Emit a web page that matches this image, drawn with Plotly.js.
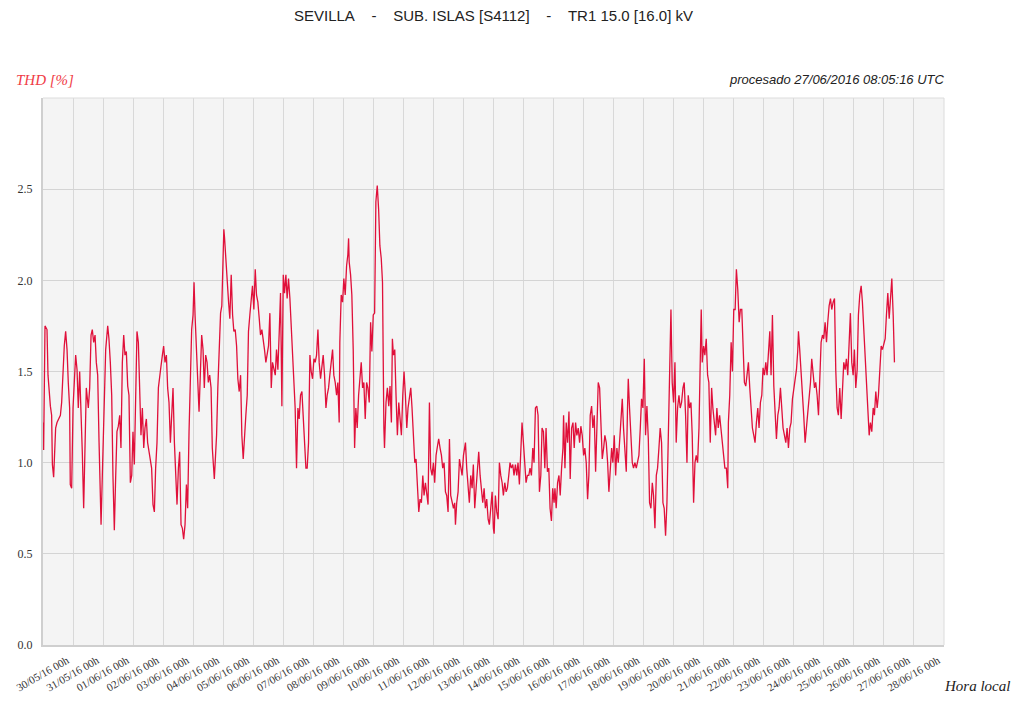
<!DOCTYPE html>
<html>
<head>
<meta charset="utf-8">
<script src="https://cdn.plot.ly/plotly-3.0.1.min.js"></script>
<style>
  html, body { margin: 0; padding: 0; background: #ffffff; }
  #chart { width: 1018px; height: 702px; }
</style>
</head>
<body>
<div id="chart"></div>
<script>
// Hours since 30/05/2016 00h (local) and THD [%] readings.
const week1 = [[0,1.22],[0.5,1.07],[1.6,1.75],[3.2,1.73],[4.0,1.48],[4.8,1.39],[5.9,1.31],[6.9,1.26],[7.5,0.99],[8.5,0.92],[9.3,1.08],[10.1,1.19],[11.2,1.22],[12.8,1.24],[13.9,1.26],[14.9,1.33],[16.0,1.55],[17.0,1.64],[18.1,1.72],[19.2,1.62],[20.2,1.44],[21.3,1.30],[21.8,0.88],[22.9,0.86],[24.0,1.30],[25.0,1.44],[26.1,1.59],[27.2,1.51],[28.2,1.30],[29.3,1.50],[30.4,1.30],[31.4,1.06],[32.5,0.75],[33.6,1.11],[34.6,1.41],[36.2,1.30],[37.3,1.41],[38.4,1.70],[39.4,1.73],[40.5,1.66],[41.6,1.70],[42.6,1.55],[43.7,1.48],[44.8,1.11],[46.4,0.66],[47.4,0.93],[49.0,1.44],[50.1,1.62],[51.7,1.75],[52.7,1.68],[53.8,1.55],[54.9,1.37],[55.9,0.93],[57.0,0.63],[58.1,0.93],[59.1,1.17],[60.2,1.20],[61.3,1.26],[62.3,1.08],[63.4,1.55],[64.5,1.70],[65.5,1.59],[66.6,1.61],[67.7,1.42],[68.7,1.37],[69.8,0.89],[70.9,0.93],[71.9,1.17],[73.0,0.99],[74.1,1.30],[75.1,1.72],[76.2,1.66],[77.3,1.44],[78.3,1.15],[79.4,1.30],[80.5,1.08],[81.5,1.19],[82.6,1.24],[83.6,1.11],[85.2,1.04],[86.8,0.97],[87.9,0.77],[89.0,0.73],[90.0,0.97],[91.1,1.11],[92.2,1.41],[93.2,1.48],[94.3,1.53],[95.4,1.59],[96.4,1.64],[97.5,1.55],[98.6,1.59],[99.6,1.41],[100.7,1.33],[101.8,1.11],[102.8,1.26],[103.9,1.41],[105.0,1.11],[106.0,0.93],[107.1,0.77],[108.2,0.97],[109.2,1.06],[110.3,0.66],[111.4,0.64],[112.4,0.58],[113.5,0.66],[114.6,0.88],[115.6,0.75],[116.7,1.17],[117.8,1.57],[118.8,1.73],[119.9,1.81],[120.7,1.99],[121.5,1.81],[122.5,1.62],[123.6,1.41],[124.7,1.28],[125.7,1.48],[126.8,1.70],[127.9,1.62],[128.9,1.41],[130.0,1.59],[131.1,1.55],[132.1,1.44],[133.2,1.48],[134.3,1.41],[135.3,1.08],[136.9,0.91]];
const week2 = [[137.6,1.02],[138.7,1.15],[139.7,1.41],[140.8,1.64],[141.9,1.82],[142.9,1.86],[143.5,2.03],[144.5,2.28],[145.1,2.23],[146.1,2.10],[147.2,2.03],[148.3,1.88],[149.3,1.79],[150.4,2.03],[151.5,1.81],[152.5,1.72],[153.6,1.73],[154.7,1.64],[155.7,1.46],[156.8,1.39],[157.9,1.48],[158.9,1.15],[160.0,1.02],[161.0,1.11],[162.1,1.26],[163.2,1.37],[164.2,1.72],[165.3,1.81],[166.4,1.92],[167.4,1.97],[168.5,1.84],[169.6,2.06],[170.6,1.92],[171.7,1.88],[172.8,1.79],[173.8,1.70],[174.9,1.73],[176.0,1.68],[177.0,1.62],[178.1,1.55],[179.2,1.61],[180.2,1.64],[181.3,1.82],[182.4,1.41],[183.4,1.55],[184.5,1.51],[185.6,1.48],[186.6,1.62],[187.7,1.51],[188.8,1.72],[189.8,1.93],[190.9,1.31],[192.0,2.03],[193.0,1.93],[194.1,2.03],[195.1,1.90],[196.2,2.01],[197.3,1.90],[198.3,1.77],[199.4,1.62],[200.5,1.44],[201.5,1.30],[202.6,0.97],[203.7,1.30],[204.7,1.24],[205.8,1.37],[206.9,1.39],[207.9,1.26],[209.0,1.19],[210.1,0.97],[211.1,0.97],[212.2,1.11],[213.3,1.59],[214.3,1.50],[215.4,1.46],[216.5,1.57],[217.5,1.55],[218.6,1.59],[219.7,1.73],[220.7,1.55],[221.8,1.46],[222.9,1.53],[223.9,1.59],[225.0,1.48],[226.1,1.30],[227.1,1.37],[228.2,1.41],[229.2,1.48],[230.3,1.55],[231.4,1.62],[232.4,1.48],[233.5,1.44],[234.6,1.37],[235.6,1.44],[236.7,1.22],[237.2,1.66],[238.3,1.92],[239.4,1.88],[240.4,2.01],[241.5,1.92],[242.6,2.08],[243.6,2.14],[244.2,2.23],[244.7,2.10],[245.8,2.03],[246.8,1.92],[247.9,1.62],[249.0,1.08],[250.0,1.30],[251.1,1.19],[252.2,1.37],[253.2,1.48],[254.3,1.55],[255.4,1.41],[256.4,1.44],[257.5,1.24],[258.6,1.44],[259.6,1.41],[260.7,1.33],[261.8,1.77],[262.8,1.61],[263.9,1.81],[265.0,1.82],[266.0,2.43],[267.1,2.52],[268.2,2.39],[269.2,2.19],[270.3,2.12],[271.3,1.99],[272.4,1.19],[272.9,1.08]];
const week3 = [[274.1,1.33],[275.2,1.41],[276.3,1.31],[277.3,1.42],[278.4,1.22],[279.2,1.68],[280.0,1.59],[281.1,1.62],[282.1,1.37],[283.2,1.15],[284.3,1.33],[285.3,1.26],[286.4,1.15],[287.5,1.37],[288.5,1.50],[289.6,1.37],[290.7,1.19],[291.7,1.30],[292.8,1.37],[293.9,1.41],[294.9,1.30],[296.0,1.15],[297.1,1.00],[298.1,1.02],[299.2,0.82],[300.3,0.73],[301.3,0.80],[302.4,0.78],[303.5,0.93],[304.5,0.82],[305.6,0.89],[306.6,0.82],[307.7,0.77],[308.8,1.33],[309.8,0.97],[310.9,0.93],[312.0,1.00],[313.0,0.89],[314.1,1.04],[315.2,1.09],[316.2,1.13],[317.3,1.08],[318.4,1.04],[319.4,0.97],[320.5,1.00],[321.6,0.84],[322.6,0.82],[323.7,0.73],[324.8,1.13],[325.8,0.82],[326.9,0.78],[328.0,0.75],[329.0,0.78],[329.6,0.66],[330.6,0.78],[331.7,0.84],[332.8,1.02],[333.8,0.97],[334.9,0.93],[336.0,1.04],[337.0,1.09],[337.6,1.11],[338.6,0.97],[339.7,0.89],[340.7,0.78],[341.8,0.93],[342.9,0.86],[343.9,0.99],[345.0,0.75],[346.1,0.86],[347.1,0.97],[348.2,1.06],[349.3,0.93],[350.3,0.84],[351.4,0.78],[352.5,0.86],[353.5,0.75],[354.6,0.80],[355.7,0.69],[356.7,0.66],[357.8,0.77],[358.9,0.84],[359.9,0.64],[360.5,0.61],[361.5,0.82],[362.6,0.73],[363.7,0.69],[364.7,1.00],[365.8,0.93],[366.9,0.89],[367.9,0.82],[369.0,0.89],[370.1,0.84],[371.1,0.86],[372.2,0.93],[373.2,1.00],[374.3,0.97],[375.4,0.99],[376.4,0.93],[377.5,0.99],[378.6,0.93],[379.6,1.00],[380.7,0.88],[381.8,1.08],[382.8,1.22],[383.9,1.11],[385.0,1.00],[386.0,0.89],[387.1,0.93],[388.2,0.93],[389.2,0.97],[390.3,0.93],[391.4,1.08],[392.4,1.00],[393.5,1.30],[394.6,1.31],[395.6,1.26],[396.7,0.84],[397.8,0.93],[398.8,1.19],[399.9,1.17],[401.0,0.97],[402.0,1.19],[403.1,0.95],[404.2,0.97],[405.2,0.75],[406.3,0.68],[407.3,0.86],[408.4,0.78]];
const week4 = [[409.1,0.86],[410.1,0.75],[411.2,0.89],[412.3,0.93],[413.3,0.82],[414.4,0.97],[415.5,1.08],[416.0,1.26],[417.1,0.97],[418.1,1.22],[419.2,1.11],[420.3,1.28],[421.3,0.91],[422.4,1.19],[423.5,1.22],[424.5,1.08],[425.6,1.22],[426.6,1.15],[427.7,1.19],[428.8,1.11],[429.8,1.20],[430.9,1.15],[432.0,1.04],[433.0,1.08],[434.1,1.00],[435.2,0.80],[436.2,0.93],[437.3,1.26],[438.4,1.31],[439.4,1.19],[440.5,1.26],[441.6,0.95],[442.6,1.24],[443.7,1.44],[444.8,1.41],[445.8,1.19],[446.9,1.02],[448.0,1.08],[449.0,1.15],[450.1,1.11],[451.2,1.00],[452.2,0.84],[453.3,0.97],[454.4,1.08],[455.4,1.00],[456.5,1.15],[457.6,0.93],[458.6,1.08],[459.7,1.00],[460.7,1.11],[461.8,1.19],[462.9,1.35],[463.9,1.19],[465.0,1.08],[466.1,0.95],[467.1,1.30],[467.7,1.46],[468.7,1.30],[469.8,1.11],[470.9,1.00],[471.9,0.97],[473.0,1.00],[474.1,0.97],[475.1,1.00],[476.2,1.04],[477.3,1.19],[478.3,1.35],[479.4,1.30],[480.5,1.57],[481.5,1.15],[482.6,1.31],[483.7,1.13],[484.7,0.78],[485.8,0.75],[486.9,0.89],[487.9,0.82],[489.0,0.64],[490.1,0.93],[491.1,0.97],[492.2,1.08],[493.2,1.19],[494.3,1.11],[495.4,0.78],[496.4,0.75],[497.5,0.60],[498.6,0.78],[499.6,1.15],[500.7,1.41],[501.8,1.84],[502.8,1.44],[503.9,1.33],[505.0,1.55],[506.0,1.11],[507.1,1.30],[508.2,1.37],[509.2,1.30],[510.3,1.33],[511.4,1.41],[512.4,1.44],[513.5,1.26],[514.6,1.00],[515.6,1.37],[516.7,1.30],[517.8,1.33],[518.8,1.15],[519.9,0.78],[521.0,1.00],[522.0,1.04],[523.1,1.00],[524.2,1.19],[525.2,1.48],[526.0,1.84],[526.8,1.55],[527.9,1.64],[528.9,1.59],[530.0,1.68],[531.1,1.48],[532.1,1.44],[533.2,1.11],[534.3,1.41],[535.3,1.30],[536.4,1.22],[537.5,1.15],[538.5,1.30],[539.6,1.19],[540.7,1.26],[541.7,1.19],[542.8,1.08],[543.9,1.00],[544.9,0.97]];
const week5 = [[546.1,0.97],[547.2,0.86],[547.7,1.22],[548.8,1.37],[549.9,1.66],[550.9,1.50],[552.0,1.84],[553.1,1.84],[554.1,2.06],[555.2,1.95],[556.3,1.77],[557.3,1.84],[558.4,1.84],[559.5,1.62],[560.5,1.44],[561.6,1.42],[562.7,1.48],[563.7,1.55],[564.8,1.41],[565.9,1.30],[566.9,1.19],[568.0,1.15],[569.0,1.11],[570.1,1.22],[571.2,1.30],[572.2,1.19],[573.3,1.33],[574.4,1.37],[575.4,1.52],[576.5,1.48],[577.6,1.55],[578.6,1.48],[579.7,1.62],[580.8,1.72],[581.8,1.48],[582.9,1.81],[584.0,1.42],[585.0,1.30],[586.1,1.13],[587.2,1.26],[588.2,1.30],[589.3,1.41],[590.4,1.26],[591.4,1.19],[592.5,1.15],[593.6,1.11],[594.6,1.19],[595.7,1.08],[596.8,1.19],[597.8,1.22],[598.9,1.35],[600.0,1.41],[601.0,1.48],[602.1,1.51],[603.1,1.61],[603.7,1.72],[604.7,1.62],[605.8,1.51],[606.9,1.39],[607.9,1.26],[609.0,1.11],[610.1,1.19],[611.1,1.26],[612.2,1.33],[613.3,1.44],[614.3,1.57],[615.4,1.48],[616.5,1.41],[617.5,1.44],[618.6,1.37],[619.7,1.26],[620.7,1.51],[621.8,1.66],[622.9,1.70],[623.9,1.68],[625.0,1.77],[626.1,1.66],[627.1,1.77],[628.2,1.86],[629.3,1.90],[630.3,1.84],[631.4,1.88],[632.5,1.90],[633.5,1.51],[634.6,1.30],[635.6,1.26],[636.7,1.41],[637.8,1.24],[638.8,1.44],[639.9,1.55],[641.0,1.51],[642.0,1.57],[643.1,1.48],[644.2,1.66],[645.2,1.82],[646.3,1.55],[647.4,1.48],[648.4,1.62],[649.5,1.41],[650.6,1.51],[651.6,1.81],[652.7,1.92],[653.8,1.97],[654.8,1.88],[655.9,1.73],[657.0,1.66],[658.0,1.51],[659.1,1.37],[660.2,1.15],[661.2,1.22],[662.3,1.17],[663.4,1.30],[664.4,1.26],[665.5,1.39],[666.6,1.30],[667.6,1.37],[668.7,1.48],[669.8,1.64],[670.8,1.62],[671.9,1.66],[673.0,1.68],[674.0,1.81],[675.1,1.93],[676.2,1.79],[677.2,1.88],[678.3,2.01],[679.4,1.81],[680.4,1.55]];

const tickDates = ['2016-05-30','2016-05-31','2016-06-01','2016-06-02','2016-06-03','2016-06-04','2016-06-05','2016-06-06','2016-06-07','2016-06-08','2016-06-09','2016-06-10','2016-06-11','2016-06-12','2016-06-13','2016-06-14','2016-06-15','2016-06-16','2016-06-17','2016-06-18','2016-06-19','2016-06-20','2016-06-21','2016-06-22','2016-06-23','2016-06-24','2016-06-25','2016-06-26','2016-06-27','2016-06-28'];
const tickLabels = ['30/05/16 00h','31/05/16 00h','01/06/16 00h','02/06/16 00h','03/06/16 00h','04/06/16 00h','05/06/16 00h','06/06/16 00h','07/06/16 00h','08/06/16 00h','09/06/16 00h','10/06/16 00h','11/06/16 00h','12/06/16 00h','13/06/16 00h','14/06/16 00h','15/06/16 00h','16/06/16 00h','17/06/16 00h','18/06/16 00h','19/06/16 00h','20/06/16 00h','21/06/16 00h','22/06/16 00h','23/06/16 00h','24/06/16 00h','25/06/16 00h','26/06/16 00h','27/06/16 00h','28/06/16 00h'];
const yTicks = [0, 0.5, 1.0, 1.5, 2.0, 2.5];
const yLabels = ['0.0', '0.5', '1.0', '1.5', '2.0', '2.5'];

const startMs = Date.UTC(2016, 4, 30, 0, 0, 0);
const samples = [].concat(week1, week2, week3, week4, week5);
const xs = samples.map(p => startMs + p[0] * 3600000);
const ys = samples.map(p => p[1]);

const NB = '\u00a0';
const titleText = 'SEVILLA' + NB.repeat(4) + '-' + NB.repeat(4) + 'SUB. ISLAS [S4112]' + NB.repeat(4) + '-' + NB.repeat(4) + 'TR1 15.0 [16.0] kV';

const trace = {
  x: xs, y: ys, type: 'scatter', mode: 'lines',
  line: { color: '#e0103a', width: 1.3 },
  hoverinfo: 'skip', showlegend: false
};

const layout = {
  width: 1018, height: 702,
  margin: { l: 43, r: 74, t: 98, b: 57, pad: 0 },
  paper_bgcolor: '#ffffff',
  plot_bgcolor: '#f4f4f4',
  title: {
    text: titleText,
    x: 0.5, xref: 'paper', y: 0.978, yref: 'container', yanchor: 'middle',
    font: { family: 'Liberation Sans, Arial, sans-serif', size: 15, color: '#222222' }
  },
  xaxis: {
    type: 'date',
    range: ['2016-05-30', '2016-06-29'],
    tickmode: 'array', tickvals: tickDates, ticktext: tickLabels,
    tickangle: -30,
    ticklabelshift: 24,
    ticklabelstandoff: 3,
    tickfont: { family: 'Liberation Serif, Times New Roman, serif', size: 11, color: '#333333' },
    showgrid: true, gridcolor: '#d8d8d8', gridwidth: 1,
    showline: true, linecolor: '#cfcfcf', linewidth: 2, mirror: false,
    zeroline: false, ticks: ''
  },
  yaxis: {
    range: [0, 3],
    tickmode: 'array', tickvals: yTicks, ticktext: yLabels,
    tickfont: { family: 'Liberation Serif, Times New Roman, serif', size: 12, color: '#333333' },
    ticklabelstandoff: 6,
    showgrid: true, gridcolor: '#d4d4d4', gridwidth: 1,
    showline: true, linecolor: '#cfcfcf', linewidth: 2,
    zeroline: false, ticks: ''
  },
  shapes: [
    { type: 'line', xref: 'paper', yref: 'paper', x0: 0, x1: 1, y0: 1, y1: 1, line: { color: '#dcdcdc', width: 1 } },
    { type: 'line', xref: 'paper', yref: 'paper', x0: 1, x1: 1, y0: 0, y1: 1, line: { color: '#dcdcdc', width: 1 } }
  ],
  annotations: [
    { text: '<i>THD [%]</i>', xref: 'paper', yref: 'paper', x: -0.032, y: 1.033, xanchor: 'left', yanchor: 'middle', showarrow: false,
      font: { family: 'Liberation Serif, Times New Roman, serif', size: 15, color: '#f03c46' } },
    { text: '<i>procesado 27/06/2016 08:05:16 UTC</i>', xref: 'paper', yref: 'paper', x: 1.003, y: 1.033, xanchor: 'right', yanchor: 'middle', showarrow: false,
      font: { family: 'Liberation Sans, Arial, sans-serif', size: 13, color: '#222222' } },
    { text: '<i>Hora local</i>', xref: 'paper', yref: 'paper', x: 0.998, y: -0.075, xanchor: 'left', yanchor: 'middle', showarrow: false,
      font: { family: 'Liberation Serif, Times New Roman, serif', size: 15, color: '#222222' } }
  ]
};

Plotly.newPlot('chart', [trace], layout, { displayModeBar: false, staticPlot: true });
</script>
</body>
</html>
